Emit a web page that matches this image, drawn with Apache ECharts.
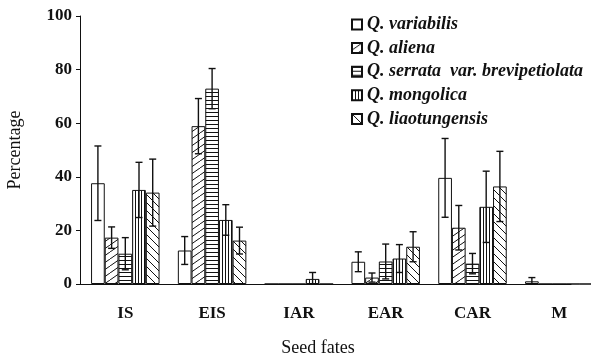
<!DOCTYPE html>
<html>
<head>
<meta charset="utf-8">
<script src="https://cdn.jsdelivr.net/npm/echarts@6/dist/echarts.min.js"></script>
<style>
html,body{margin:0;padding:0;background:#fff;}
#chart{width:591px;height:353px;}
</style>
</head>
<body>
<div id="chart"></div>
<script>
const categories = ['IS', 'EIS', 'IAR', 'EAR', 'CAR', 'M'];
const seriesNames = ['Q. variabilis', 'Q. aliena', 'Q. serrata  var. brevipetiolata', 'Q. mongolica', 'Q. liaotungensis'];
const variabilis = [37.6, 12.5, 0, 8.3, 39.6, 1.0];
const variabilisErr = [13.9, 5.2, 0, 3.7, 14.7, 1.4];
const aliena = [17.3, 58.9, 0, 2.4, 21.0, 0];
const alienaErr = [4.0, 10.3, 0, 1.7, 8.3, 0];
const serrata = [11.3, 72.9, 0, 8.4, 7.6, 0];
const serrataErr = [6.0, 7.5, 0, 6.5, 3.8, 0];
const mongolica = [35.1, 23.9, 1.9, 9.5, 28.8, 0];
const mongolicaErr = [10.3, 5.7, 2.4, 5.2, 13.3, 0];
const liaotungensis = [34.1, 16.2, 0, 13.9, 36.4, 0];
const liaotungensisErr = [12.5, 5.0, 0, 5.6, 13.1, 0];
const yTicks = [0, 20, 40, 60, 80, 100];

const values = [variabilis, aliena, serrata, mongolica, liaotungensis];
const errors = [variabilisErr, alienaErr, serrataErr, mongolicaErr, liaotungensisErr];
const patternTypes = ['none', 'slash', 'horizontal', 'vertical', 'backslash'];

const BAR_W = 13.7;
const CAP = 3.5;
const SERIF = '"Liberation Serif", "DejaVu Serif", serif';

function makePattern(type) {
  const c = document.createElement('canvas');
  let w = 8, h = 8;
  if (type === 'slash') { w = 10; h = 7; }
  if (type === 'horizontal') { w = 4; h = 4; }
  if (type === 'vertical') { w = 3; h = 4; }
  c.width = w; c.height = h;
  const g = c.getContext('2d');
  g.fillStyle = '#fff';
  g.fillRect(0, 0, w, h);
  g.strokeStyle = '#111';
  g.lineWidth = 1;
  g.beginPath();
  if (type === 'slash') {
    for (let k = -1; k <= 1; k++) {
      g.moveTo(k * w, h); g.lineTo(k * w + w, 0);
    }
  } else if (type === 'backslash') {
    for (let k = -1; k <= 1; k++) {
      g.moveTo(k * w, 0); g.lineTo(k * w + w, h);
    }
  } else if (type === 'horizontal') {
    g.moveTo(0, 0.5); g.lineTo(w, 0.5);
  } else if (type === 'vertical') {
    g.moveTo(0.5, 0); g.lineTo(0.5, h);
  }
  g.stroke();
  if (type === 'none') return '#fff';
  return { image: c, repeat: 'repeat' };
}

const series = [];
values.forEach((vals, idx) => {
  series.push({
    name: seriesNames[idx],
    type: 'bar',
    barWidth: BAR_W,
    barGap: '0%',
    data: vals.map((v, i) => [i, v]),
    itemStyle: { color: makePattern(patternTypes[idx]), borderColor: '#111', borderWidth: 1 },
    emphasis: { disabled: true },
    z: 2
  });
});
values.forEach((vals, idx) => {
  const errs = errors[idx];
  const data = [];
  vals.forEach((v, i) => { if (errs[i] > 0) data.push([i, v - errs[i], v + errs[i]]); });
  series.push({
    type: 'custom',
    name: 'err' + idx,
    data: data,
    z: 5,
    renderItem: function (params, api) {
      const x = api.value(0);
      const lo = api.coord([x, Math.max(0, api.value(1))]);
      const hi = api.coord([x, api.value(2)]);
      const cx = lo[0] + (idx - 2) * BAR_W;
      const style = { stroke: '#111', lineWidth: 1.4 };
      return {
        type: 'group',
        children: [
          { type: 'line', shape: { x1: cx, y1: lo[1], x2: cx, y2: hi[1] }, style: style },
          { type: 'line', shape: { x1: cx - CAP, y1: hi[1], x2: cx + CAP, y2: hi[1] }, style: style },
          { type: 'line', shape: { x1: cx - CAP, y1: lo[1], x2: cx + CAP, y2: lo[1] }, style: style }
        ]
      };
    }
  });
});

const chart = echarts.init(document.getElementById('chart'), null, { renderer: 'canvas' });
chart.setOption({
  animation: false,
  backgroundColor: '#fff',
  grid: { left: 80, right: 20, top: 16, bottom: 69, containLabel: false, outerBoundsMode: 'none' },
  legend: {
    data: seriesNames,
    orient: 'vertical',
    left: 346,
    top: 10.5,
    itemWidth: 10,
    itemHeight: 10,
    itemGap: 5.6,
    icon: 'rect',
    selectedMode: false,
    textStyle: { fontFamily: SERIF, fontSize: 18, fontStyle: 'italic', fontWeight: 'bold', color: '#111', lineHeight: 18 }
  },
  xAxis: {
    type: 'value',
    min: -0.522,
    max: 5.135,
    splitLine: { show: false },
    axisLine: { show: true, onZero: false, lineStyle: { color: '#111', width: 1 } },
    axisTick: { show: false },
    axisLabel: {
      customValues: [0, 1, 2, 3, 4, 5],
      formatter: v => categories[Math.round(v)],
      fontFamily: SERIF, fontSize: 17, fontWeight: 'bold', color: '#111', margin: 21
    },
    name: 'Seed fates',
    nameLocation: 'middle',
    nameGap: 55,
    nameTextStyle: { fontFamily: SERIF, fontSize: 18, color: '#111', padding: [0, 15, 0, 0] }
  },
  yAxis: {
    type: 'value',
    min: yTicks[0],
    max: yTicks[yTicks.length - 1],
    interval: 20,
    splitLine: { show: false },
    axisLine: { show: true, onZero: false, lineStyle: { color: '#111', width: 1 } },
    axisTick: { show: true, inside: false, length: 4, lineStyle: { color: '#111' } },
    axisLabel: { fontFamily: SERIF, fontSize: 17, fontWeight: 'bold', color: '#111', margin: 8 },
    name: 'Percentage',
    nameLocation: 'middle',
    nameRotate: 90,
    nameGap: 56,
    nameTextStyle: { fontFamily: SERIF, fontSize: 18, color: '#111' }
  },
  series: series
});
</script>
</body>
</html>
